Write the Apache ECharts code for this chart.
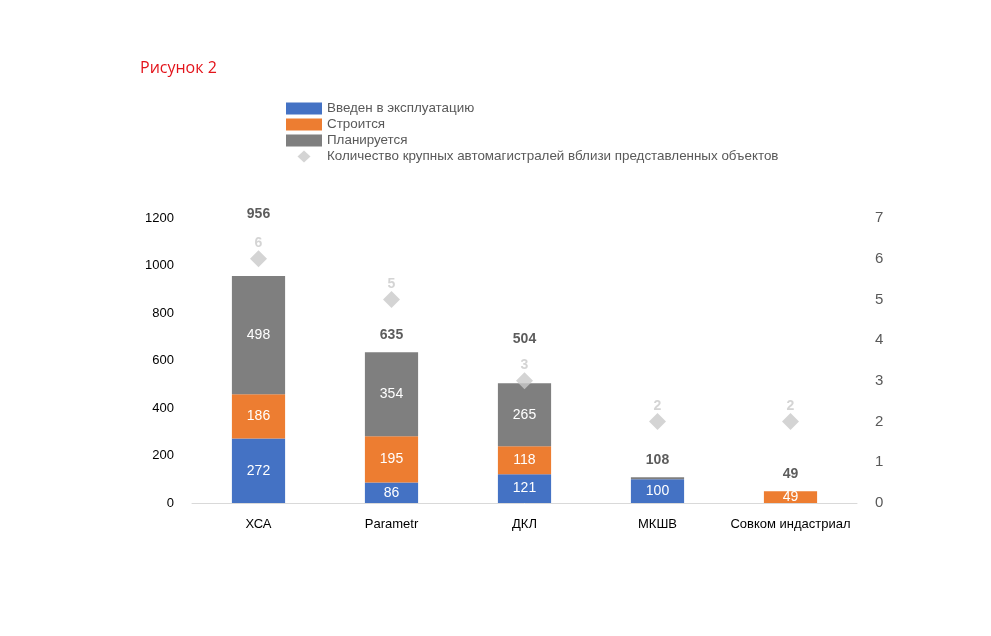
<!DOCTYPE html>
<html>
<head>
<meta charset="utf-8">
<script src="https://cdn.jsdelivr.net/npm/echarts@6/dist/echarts.min.js"></script>
<style>
  html, body { margin: 0; padding: 0; background: #fff; }
  #chart { width: 991px; height: 636px; }
</style>
</head>
<body>
<div id="chart"></div>
<script>
const categories = ["ХСА", "Parametr", "ДКЛ", "МКШВ", "Совком индастриал"];
const operating = [272, 86, 121, 100, 0];
const building = [186, 195, 118, 0, 49];
const planned = [498, 354, 265, 8, 0];
const highways = [6, 5, 3, 2, 2];
const leftTicks = [0, 1200, 200];
const rightTicks = [0, 7, 1];

const totals = categories.map((_, i) => operating[i] + building[i] + planned[i]);
// extra lift for totals that would collide with the diamond labels
const totalLift = [-45, 0, -27, 0, 0];

const chart = echarts.init(document.getElementById("chart"));

const barLabel = {
  show: true,
  position: "inside",
  color: "#fff",
  fontSize: 14,
  fontFamily: "Liberation Sans",
  formatter: (p) => (p.value >= 20 ? p.value : ""),
};

// diamond centred in a 36x12 box so the legend does not stretch it
const legendDiamond = "path://M0,0M36,0M36,12M0,12M18,0L24.5,6L18,12L11.5,6Z";

chart.setOption({
  animation: false,
  title: {
    text: "Рисунок 2",
    left: 135,
    top: 55,
    textStyle: { color: "#e3141b", fontSize: 16, fontWeight: "normal", fontFamily: "Open Sans" },
  },
  legend: {
    orient: "vertical",
    left: 286,
    top: 102,
    padding: 0,
    itemWidth: 36,
    itemHeight: 12,
    itemGap: 3,
    textStyle: { color: "#595959", fontSize: 13.4, fontFamily: "Liberation Sans" },
    data: [
      { name: "Введен в эксплуатацию", icon: "rect" },
      { name: "Строится", icon: "rect" },
      { name: "Планируется", icon: "rect" },
      { name: "Количество крупных автомагистралей вблизи представленных объектов", icon: legendDiamond },
    ],
  },
  grid: { left: 192, right: 134, top: 218, bottom: 133 },
  xAxis: {
    type: "category",
    data: categories,
    axisTick: { show: false },
    axisLine: { lineStyle: { color: "#d9d9d9" } },
    axisLabel: { interval: 0, color: "#000", fontSize: 13, fontFamily: "Liberation Sans", margin: 15 },
  },
  yAxis: [
    {
      type: "value",
      min: leftTicks[0],
      max: leftTicks[1],
      interval: leftTicks[2],
      splitLine: { show: false },
      axisLabel: {
        color: "#000",
        fontSize: 13,
        fontFamily: "Liberation Sans",
        margin: 18,
        formatter: (v) => String(v),
      },
    },
    {
      type: "value",
      min: rightTicks[0],
      max: rightTicks[1],
      interval: rightTicks[2],
      splitLine: { show: false },
      axisLabel: { color: "#595959", fontSize: 15, fontFamily: "Liberation Sans", margin: 18 },
    },
  ],
  series: [
    {
      name: "Введен в эксплуатацию",
      type: "bar",
      stack: "total",
      barWidth: "40%",
      data: operating,
      itemStyle: { color: "#4472c4" },
      label: barLabel,
    },
    {
      name: "Строится",
      type: "bar",
      stack: "total",
      data: building,
      itemStyle: { color: "#ed7d31" },
      label: barLabel,
    },
    {
      name: "Планируется",
      type: "bar",
      stack: "total",
      data: planned,
      itemStyle: { color: "#7f7f7f" },
      label: barLabel,
    },
    {
      name: "totals",
      type: "scatter",
      symbolSize: 0,
      silent: true,
      data: totals.map((v, i) => ({
        value: v,
        label: { offset: [0, totalLift[i]] },
      })),
      label: {
        show: true,
        position: "top",
        distance: 10,
        color: "#333",
        fontSize: 14,
        fontWeight: "bold",
        fontFamily: "Liberation Sans",
      },
    },
    {
      name: "Количество крупных автомагистралей вблизи представленных объектов",
      type: "scatter",
      yAxisIndex: 1,
      symbol: "diamond",
      symbolSize: 17,
      data: highways,
      itemStyle: { color: "#c9c9c9" },
      label: {
        show: true,
        position: "top",
        distance: 0,
        color: "#c9c9c9",
        fontSize: 14,
        fontWeight: "bold",
        fontFamily: "Liberation Sans",
      },
    },
  ],
});
</script>
</body>
</html>
